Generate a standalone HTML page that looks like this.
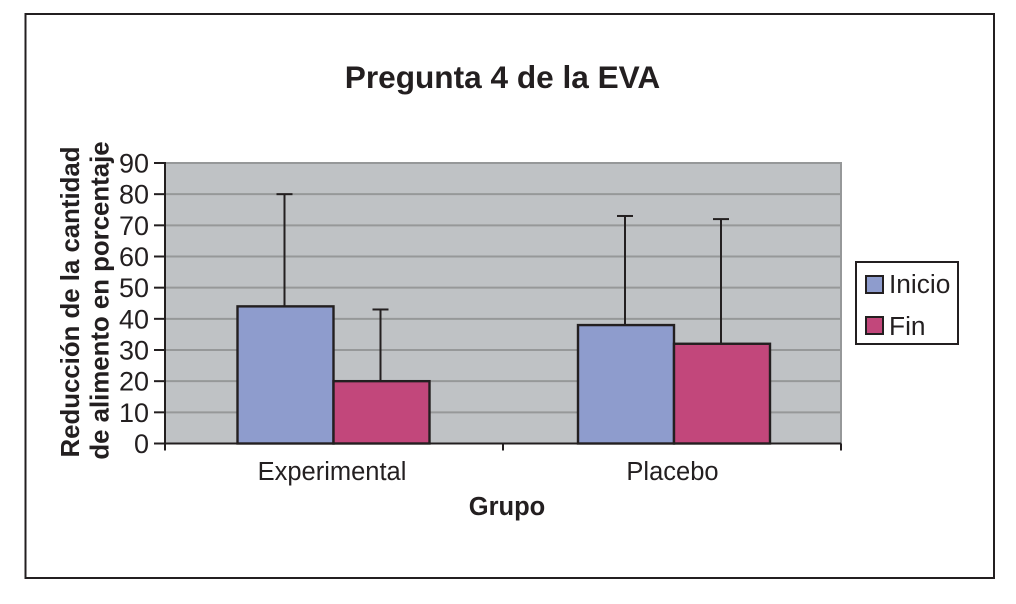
<!DOCTYPE html>
<html>
<head>
<meta charset="utf-8">
<style>
html,body{margin:0;padding:0;background:#fff;width:1016px;height:604px;overflow:hidden}
svg{display:block}
text{font-family:"Liberation Sans",sans-serif;fill:#231f20}
</style>
</head>
<body>
<svg id="chart" width="1016" height="604" viewBox="0 0 1016 604" xmlns="http://www.w3.org/2000/svg">
<rect x="25.5" y="14" width="968.5" height="564" fill="#fff" stroke="#231f20" stroke-width="2"/>
<text x="502.5" y="88" text-anchor="middle" font-size="31.6" font-weight="bold">Pregunta 4 de la EVA</text>
<rect x="165" y="163" width="676" height="280.5" fill="#bfc2c5"/>
<g id="grid"></g>
<line x1="841" y1="162" x2="841" y2="444" stroke="#969899" stroke-width="2"/>
<g id="bars"></g>
<g id="axes"></g>
<text transform="translate(79,302) rotate(-90)" text-anchor="middle" font-size="25.8" font-weight="bold">Reducción de la cantidad</text>
<text transform="translate(108.5,300.5) rotate(-90)" text-anchor="middle" font-size="25.8" font-weight="bold">de alimento en porcentaje</text>
<text x="507" y="515" text-anchor="middle" font-size="25.5" font-weight="bold">Grupo</text>
<g>
<rect x="856" y="262" width="102" height="82" fill="#fff" stroke="#231f20" stroke-width="2"/>
<rect x="866" y="276" width="17" height="17" fill="#8e9ccd" stroke="#231f20" stroke-width="2"/>
<text x="889" y="293" font-size="26.3">Inicio</text>
<rect x="866" y="317" width="17" height="17" fill="#c2477b" stroke="#231f20" stroke-width="2"/>
<text x="889" y="335" font-size="26.3">Fin</text>
</g>
</svg>
<script>
const categories = ['Experimental', 'Placebo'];
const seriesNames = ['Inicio', 'Fin'];
const inicioValues = [44, 38];
const finValues = [20, 32];
const inicioErrorTops = [80, 73];
const finErrorTops = [43, 72];
const yTicks = [0, 10, 20, 30, 40, 50, 60, 70, 80, 90];

const NS = 'http://www.w3.org/2000/svg';
const plot = {left: 165, right: 841, top: 163, bottom: 443.5, yMax: 90};
const groupLayout = {firstCenter: 333.5, step: 340.5, barWidth: 96};
const INK = '#231f20';
const COLORS = ['#8e9ccd', '#c2477b'];

function yScale(v) {
  return plot.bottom - (v / plot.yMax) * (plot.bottom - plot.top);
}
function categoryCenter(c) {
  return groupLayout.firstCenter + c * groupLayout.step;
}
function barX(c, s) {
  return categoryCenter(c) - groupLayout.barWidth + s * groupLayout.barWidth;
}
function make(tag, attrs, parent) {
  const el = document.createElementNS(NS, tag);
  for (const k in attrs) el.setAttribute(k, attrs[k]);
  parent.appendChild(el);
  return el;
}

const gridG = document.getElementById('grid');
const barsG = document.getElementById('bars');
const axesG = document.getElementById('axes');

yTicks.forEach(function (t) {
  if (t === 0) return;
  const y = yScale(t);
  const g = make('line', {x1: plot.left, x2: plot.right, y1: y, y2: y, stroke: '#969899', 'stroke-width': 2}, gridG);
  
  
});

const valueSets = [inicioValues, finValues];
const errorSets = [inicioErrorTops, finErrorTops];
const barW = groupLayout.barWidth;

categories.forEach(function (cat, c) {
  seriesNames.forEach(function (name, s) {
    const x = barX(c, s);
    const cx = x + barW / 2 - 1;
    const yTop = yScale(valueSets[s][c]);
    const yErr = yScale(errorSets[s][c]);
    const stem = make('line', {x1: cx, x2: cx, y1: yTop, y2: yErr, stroke: INK, 'stroke-width': 2}, barsG);
    
    
    const cap = make('line', {x1: cx - 8, x2: cx + 8, y1: yErr, y2: yErr, stroke: INK, 'stroke-width': 2}, barsG);
    
    
    const bar = make('rect', {x: x, y: yTop, width: barW, height: plot.bottom - yTop, fill: COLORS[s], stroke: INK, 'stroke-width': 2.4}, barsG);
    
    
  });
});

const yAxis = make('line', {x1: plot.left, x2: plot.left, y1: plot.top - 1, y2: plot.bottom + 7, stroke: INK, 'stroke-width': 2}, axesG);


const xAxis = make('line', {x1: plot.left - 9, x2: plot.right, y1: plot.bottom, y2: plot.bottom, stroke: INK, 'stroke-width': 2}, axesG);



yTicks.forEach(function (t) {
  const y = yScale(t);
  const tick = make('line', {x1: plot.left - 11, x2: plot.left, y1: y, y2: y, stroke: INK, 'stroke-width': 2}, axesG);
  
  
  const label = make('text', {x: 149, y: y + 9.5, 'text-anchor': 'end', 'font-size': 27}, axesG);
  label.textContent = t;
  
  
});

for (let i = 0; i <= categories.length; i++) {
  const x = plot.left + i * (plot.right - plot.left) / categories.length;
  const tick = make('line', {x1: x, x2: x, y1: plot.bottom, y2: plot.bottom + 7, stroke: INK, 'stroke-width': 2}, axesG);
  
  
}

categories.forEach(function (cat, c) {
  const label = make('text', {x: categoryCenter(c) - 1.5, y: 480, 'text-anchor': 'middle', 'font-size': 25.5}, axesG);
  label.textContent = cat;
  
  
});
</script>
</body>
</html>
